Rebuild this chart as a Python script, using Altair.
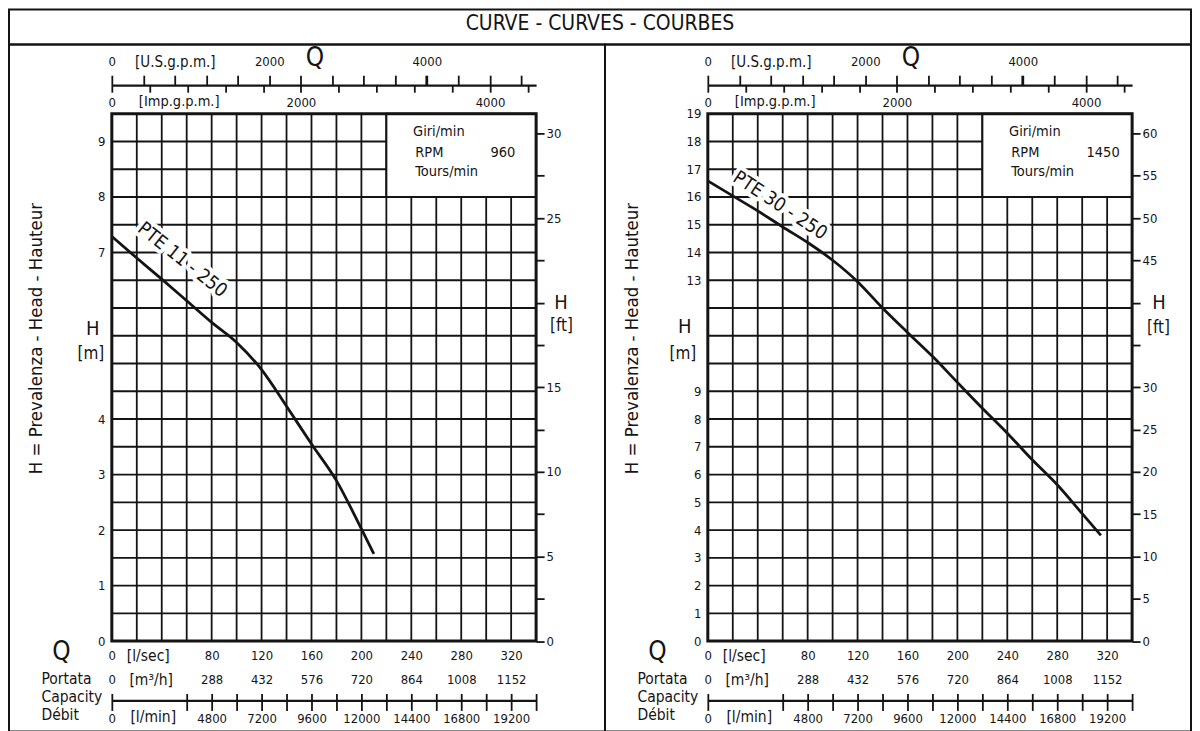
import altair as alt
import pandas as pd

FONT = "DejaVu Sans Condensed, Liberation Sans Narrow, sans-serif"
INK = "#141414"

TITLE = "CURVE - CURVES - COURBES"
AXIS_TITLE = "H = Prevalenza - Head - Hauteur"

# unit conversions (l/s based)
LS_PER_USGPM = 0.0630902
LS_PER_IMPGPM = 0.0757682
M_PER_FT = 0.3048
Q_MAX = 340  # l/s

# axis label values
ls_labels = [0, 80, 120, 160, 200, 240, 280, 320]
m3h_labels = [0, 288, 432, 576, 720, 864, 1008, 1152]
lmin_ticks = [0] + list(range(3600, 20401, 1200))
usgpm_ticks = list(range(0, 5201, 400))
impgpm_ticks = list(range(0, 4401, 400))
grid_q = list(range(20, 340, 20))

# curve PTE 11 - 250 (960 rpm)
q_11 = [0, 20, 40, 60, 80, 100, 120, 140, 160, 180, 200, 210]
h_11 = [7.29, 6.90, 6.52, 6.13, 5.74, 5.38, 4.89, 4.23, 3.55, 2.89, 2.02, 1.57]

# curve PTE 30 - 250 (1450 rpm)
q_30 = [0, 20, 40, 60, 80, 100, 120, 140, 160, 180, 200, 220, 240, 260, 280, 300, 315]
h_30 = [16.58, 16.04, 15.50, 14.92, 14.36, 13.72, 12.95, 12.00, 11.12, 10.26, 9.32,
        8.39, 7.49, 6.53, 5.63, 4.59, 3.81]

# geometry of each panel
W_LEFT, W_RIGHT, PANEL_H, TITLE_H = 597, 587, 688, 35
PL, PR, PT, PB = 103, 528, 69.3, 597.5
AX_TOP = 40.7
NUM = 13

DUMMY_SCALE = alt.Scale(domain=[0, 1], nice=False, zero=False)


def cond(test, big, small=NUM):
    return {"condition": {"test": test, "value": big}, "value": small}


def ghost_x(vmax, axis):
    df = pd.DataFrame({"v": [0, vmax], "d": [0.5, 0.5]})
    return alt.Chart(df).mark_point(opacity=0, size=1).encode(
        x=alt.X("v:Q", scale=alt.Scale(domain=[0, vmax], range=[PL, PR], nice=False, zero=False),
                axis=axis),
        y=alt.Y("d:Q", scale=DUMMY_SCALE, axis=None))


def panel(width, q, h, model, rpm, y_max, grid_h, m_vals, h_pos, unit_pos,
          ft_vals, ft_expr, ft_tx, ft_ty, lab_q, lab_h, lab_angle, box_h0, leg_h):
    xs = alt.Scale(domain=[0, Q_MAX], range=[PL, PR], nice=False, zero=False)
    ys = alt.Scale(domain=[0, y_max], range=[PB, PT], nice=False, zero=False)
    unit_ls = 28.8
    x_axis = alt.Axis(orient="bottom", offset=PB - PANEL_H, values=[unit_ls] + ls_labels,
                      format="d",
                      labelExpr=f"datum.value == {unit_ls} ? '[l/sec]' : datum.label",
                      labelFontSize=cond(f"datum.value == {unit_ls}", 15.5),
                      labelBaseline="middle", labelPadding=14.5, ticks=False, domain=False,
                      grid=False, labelFlush=False, labelOverlap=False,
                      title="Q", titleFontSize=26, titleX=52, titleY=10.8, titleAngle=0,
                      titleAlign="center", titleBaseline="middle")
    y_axis = alt.Axis(orient="left", offset=-PL, values=m_vals, format="d",
                      labelFontSize=NUM, labelPadding=7, ticks=False, domain=False, grid=False,
                      labelOverlap=False, labelFlush=False,
                      title=AXIS_TITLE, titleFontSize=18.5, titleAngle=270, titleX=27 - PL,
                      titleY=294, titleAlign="center", titleBaseline="middle")

    def X(f):
        return alt.X(f, type="quantitative", scale=xs, axis=x_axis)

    def Y(f):
        return alt.Y(f, type="quantitative", scale=ys, axis=y_axis)

    gv = pd.DataFrame({"q": grid_q, "lo": 0.0, "hi": y_max})
    grid_v = alt.Chart(gv).mark_rule(color=INK, strokeWidth=1.8).encode(
        x=X("q"), y=Y("lo"), y2="hi")
    gh = pd.DataFrame({"h": grid_h, "lo": 0.0, "hi": float(Q_MAX)})
    grid_hz = alt.Chart(gh).mark_rule(color=INK, strokeWidth=1.8).encode(
        x=X("lo"), x2="hi", y=Y("h"))

    box = alt.Chart(pd.DataFrame({"q0": [220], "q1": [Q_MAX], "h0": [box_h0], "h1": [y_max]})) \
        .mark_rect(fill="white", stroke=INK, strokeWidth=2).encode(
        x=X("q0"), x2="q1", y=Y("h0"), y2="h1")

    leg = pd.DataFrame({"q": [241.4, 243.2, 243.2, 303.5],
                        "h": [leg_h[0], leg_h[1], leg_h[2], leg_h[1]],
                        "t": ["Giri/min", "RPM", "Tours/min", rpm]})
    leg_text = alt.Chart(leg).mark_text(font=FONT, fontSize=14.5, color=INK, align="left",
                                        baseline="middle").encode(x=X("q"), y=Y("h"), text="t:N")

    # "H" symbols beside both height axes, and the metre unit
    h_df = pd.DataFrame({"q": [h_pos[0][0], h_pos[1][0]], "h": [h_pos[0][1], h_pos[1][1]],
                         "t": ["H", "H"]})
    h_text = alt.Chart(h_df).mark_text(font=FONT, fontSize=20, color=INK).encode(
        x=X("q"), y=Y("h"), text="t:N")
    u_df = pd.DataFrame({"q": [unit_pos[0]], "h": [unit_pos[1]], "t": ["[m]"]})
    u_text = alt.Chart(u_df).mark_text(font=FONT, fontSize=17, color=INK).encode(
        x=X("q"), y=Y("h"), text="t:N")

    lab_df = pd.DataFrame({"q": [lab_q], "h": [lab_h], "t": [model]})
    halo = alt.Chart(lab_df).mark_text(font=FONT, fontSize=19, angle=lab_angle, fill="white",
                                       stroke="white", strokeWidth=8, strokeJoin="round").encode(
        x=X("q"), y=Y("h"), text="t:N")
    lab = alt.Chart(lab_df).mark_text(font=FONT, fontSize=19, angle=lab_angle, color=INK).encode(
        x=X("q"), y=Y("h"), text="t:N")

    curve = alt.Chart(pd.DataFrame({"q": q, "h": h})).mark_line(
        color=INK, strokeWidth=2.8, interpolate="monotone").encode(x=X("q"), y=Y("h"))

    border = alt.Chart(pd.DataFrame({"q0": [0], "q1": [Q_MAX], "h0": [0], "h1": [y_max]})) \
        .mark_rect(fillOpacity=0, stroke=INK, strokeWidth=3).encode(
        x=X("q0"), x2="q1", y=Y("h0"), y2="h1")

    main = alt.layer(grid_v, grid_hz, box, leg_text, h_text, u_text, halo, lab, curve, border)

    # feet axis on the right
    ft_max = y_max / M_PER_FT
    ft_axis = alt.Axis(orient="right", offset=PR - width, values=ft_vals, format="d",
                       labelExpr=ft_expr, labelFontSize=NUM,
                       tickSize=8, tickWidth=1.8, labelPadding=2, domain=False, grid=False,
                       labelOverlap=False, labelFlush=False,
                       title="[ft]", titleFontSize=17, titleAngle=0, titleX=ft_tx, titleY=ft_ty,
                       titleAlign="center", titleBaseline="middle")
    ft_layer = alt.Chart(pd.DataFrame({"v": [0, ft_max], "d": [0.5, 0.5]})).mark_point(
        opacity=0, size=1).encode(
        x=alt.X("d:Q", scale=DUMMY_SCALE, axis=None),
        y=alt.Y("v:Q", scale=alt.Scale(domain=[0, ft_max], range=[PB, PT], nice=False, zero=False),
                axis=ft_axis))

    # U.S. gpm axis (top)
    us_axis = alt.Axis(orient="top", offset=-AX_TOP, values=usgpm_ticks, format="d",
                       labelExpr="datum.value == 800 ? '[U.S.g.p.m.]' : (datum.value % 2000 == 0 ? datum.label : '')",
                       labelFontSize=cond("datum.value == 800", 15), labelBaseline="middle",
                       labelPadding=13.7, tickSize=10,
                       tickWidth={"condition": {"test": "datum.value == 4000", "value": 2.8}, "value": 1.8},
                       domainWidth=2.2, labelFlush=False, labelOverlap=False, grid=False,
                       title="Q", titleFontSize=26, titleX=306, titleY=-27.7, titleAngle=0,
                       titleAlign="center", titleBaseline="middle")
    us_layer = ghost_x(Q_MAX / LS_PER_USGPM, us_axis)

    # Imp. gpm axis (ticks hanging below the same line)
    imp_axis = alt.Axis(orient="bottom", offset=AX_TOP - PANEL_H, values=impgpm_ticks, format="d",
                        labelExpr="datum.value % 2000 == 0 ? datum.label : ''",
                        labelFontSize=NUM, labelBaseline="middle", labelPadding=10.3,
                        tickSize=7, tickWidth=1.8, domain=False, grid=False,
                        labelFlush=False, labelOverlap=False,
                        title="[Imp.g.p.m.]", titleFontSize=14.5, titleX=170, titleY=16.8,
                        titleAngle=0, titleAlign="center", titleBaseline="middle")
    imp_layer = ghost_x(Q_MAX / LS_PER_IMPGPM, imp_axis)

    # m3/h axis (labels above the bottom line)
    unit_m3h = 112
    m3h_axis = alt.Axis(orient="bottom", offset=657 - PANEL_H, values=[unit_m3h] + m3h_labels,
                        format="d",
                        labelExpr=f"datum.value == {unit_m3h} ? '[m³/h]' : datum.label",
                        labelFontSize=cond(f"datum.value == {unit_m3h}", 15.5),
                        labelBaseline="middle", labelPadding=-20.5, ticks=False, domain=True,
                        domainWidth=2.2, grid=False, labelFlush=False, labelOverlap=False,
                        title=["Portata", "Capacity", "Débit"], titleFontSize=15.5,
                        titleLineHeight=18, titleX=32, titleY=-28.5, titleAngle=0,
                        titleAlign="left", titleBaseline="top")
    m3h_layer = ghost_x(Q_MAX * 3.6, m3h_axis)

    # l/min axis (ticks crossing the bottom line)
    lmin_axis = alt.Axis(orient="bottom", offset=650 - PANEL_H, values=lmin_ticks, format="d",
                         labelExpr="datum.value % 2400 == 0 ? datum.label : ''",
                         labelFontSize=NUM, labelBaseline="middle", labelPadding=8.5,
                         tickSize=17, tickWidth=1.8, domain=False, grid=False,
                         labelFlush=False, labelOverlap=False,
                         title="[l/min]", titleFontSize=15.5, titleX=144, titleY=23, titleAngle=0,
                         titleAlign="center", titleBaseline="middle")
    lmin_layer = ghost_x(Q_MAX * 60, lmin_axis)

    return alt.layer(main, ft_layer, us_layer, imp_layer, m3h_layer, lmin_layer).resolve_scale(
        x="independent", y="independent").properties(width=width, height=PANEL_H)


left = panel(
    W_LEFT, q_11, h_11, "PTE 11 - 250", "960", 9.5,
    [x / 2 for x in range(1, 19)],
    [0, 1, 2, 3, 4, 7, 8, 9],
    [(-15.2, 5.62), (360.0, 20 * M_PER_FT)], (-16.8, 5.17),
    [x * 2.5 for x in range(0, 13)],
    "datum.value == 20 ? '' : (datum.value % 5 == 0 ? datum.label : '')",
    25, 281, 56.6, 6.87, 38.5, 8, [9.17, 8.80, 8.45])

right = panel(
    W_RIGHT, q_30, h_30, "PTE 30 - 250", "1450", 19,
    list(range(1, 19)),
    [0, 1, 2, 3, 4, 5, 6, 7, 8, 9, 13, 14, 15, 16, 17, 18, 19],
    [(-18.4, 11.31), (361.6, 40 * M_PER_FT)], (-20.0, 10.34),
    list(range(0, 61, 5)),
    "datum.value == 40 || datum.value == 35 ? '' : datum.label",
    26, 283, 58, 15.70, 33.5, 16, [18.34, 17.60, 16.90])

title_df = pd.DataFrame({"t": [TITLE], "px": [0.5], "py": [0.5]})
title = alt.Chart(title_df).mark_text(font=FONT, fontSize=21, color=INK, dy=-3).encode(
    x=alt.X("px:Q", scale=DUMMY_SCALE, axis=None),
    y=alt.Y("py:Q", scale=DUMMY_SCALE, axis=None),
    text="t:N").properties(width=W_LEFT + W_RIGHT, height=TITLE_H)

chart = alt.vconcat(
    title,
    alt.hconcat(left, right, spacing=0, bounds="flush"),
    spacing=0, bounds="flush",
).properties(padding=0).configure_view(
    stroke=INK, strokeWidth=2
).configure_axis(
    labelFont=FONT, titleFont=FONT, labelColor=INK, titleColor=INK,
    tickColor=INK, domainColor=INK, titleFontWeight="normal"
)

chart.save("out.html", embed_options={"renderer": "svg", "actions": False})
